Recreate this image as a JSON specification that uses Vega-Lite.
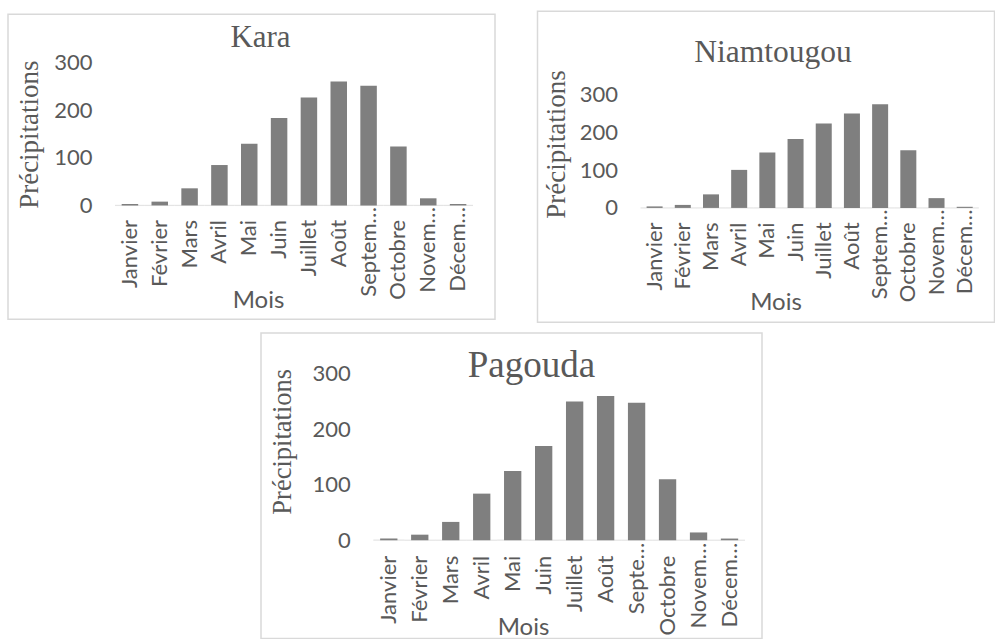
{
  "$schema": "https://vega.github.io/schema/vega-lite/v6.json",
  "padding": {"left": 7, "top": 10, "right": 0, "bottom": 0},
  "background": "white",
  "datasets": {
    "rain": [
      {"station": "Kara", "month": "Janvier", "value": 3},
      {"station": "Kara", "month": "Février", "value": 8},
      {"station": "Kara", "month": "Mars", "value": 36},
      {"station": "Kara", "month": "Avril", "value": 85},
      {"station": "Kara", "month": "Mai", "value": 130},
      {"station": "Kara", "month": "Juin", "value": 184},
      {"station": "Kara", "month": "Juillet", "value": 227},
      {"station": "Kara", "month": "Août", "value": 261},
      {"station": "Kara", "month": "Septembre", "value": 252},
      {"station": "Kara", "month": "Octobre", "value": 124},
      {"station": "Kara", "month": "Novembre", "value": 15},
      {"station": "Kara", "month": "Décembre", "value": 3},
      {"station": "Niamtougou", "month": "Janvier", "value": 4},
      {"station": "Niamtougou", "month": "Février", "value": 8},
      {"station": "Niamtougou", "month": "Mars", "value": 36},
      {"station": "Niamtougou", "month": "Avril", "value": 101},
      {"station": "Niamtougou", "month": "Mai", "value": 147},
      {"station": "Niamtougou", "month": "Juin", "value": 183},
      {"station": "Niamtougou", "month": "Juillet", "value": 224},
      {"station": "Niamtougou", "month": "Août", "value": 251},
      {"station": "Niamtougou", "month": "Septembre", "value": 275},
      {"station": "Niamtougou", "month": "Octobre", "value": 153},
      {"station": "Niamtougou", "month": "Novembre", "value": 26},
      {"station": "Niamtougou", "month": "Décembre", "value": 3},
      {"station": "Pagouda", "month": "Janvier", "value": 3},
      {"station": "Pagouda", "month": "Février", "value": 10},
      {"station": "Pagouda", "month": "Mars", "value": 33},
      {"station": "Pagouda", "month": "Avril", "value": 84},
      {"station": "Pagouda", "month": "Mai", "value": 125},
      {"station": "Pagouda", "month": "Juin", "value": 170},
      {"station": "Pagouda", "month": "Juillet", "value": 250},
      {"station": "Pagouda", "month": "Août", "value": 260},
      {"station": "Pagouda", "month": "Septembre", "value": 248},
      {"station": "Pagouda", "month": "Octobre", "value": 110},
      {"station": "Pagouda", "month": "Novembre", "value": 14},
      {"station": "Pagouda", "month": "Décembre", "value": 3}
    ]
  },
  "vconcat": [
    {
      "hconcat": [
        {
          "width": 487,
          "height": 305,
          "data": {"name": "rain"},
          "transform": [{"filter": "datum.station == 'Kara'"}],
          "title": {"text": "Kara", "font": "Liberation Serif", "fontSize": 31, "fontWeight": "normal", "color": "#595959", "anchor": "middle", "frame": "group", "offset": 0, "baseline": "middle", "dy": 55.2, "dx": 9},
          "encoding": {
            "x": {
              "field": "month", "type": "nominal", "sort": null,
              "scale": {"domain": ["Janvier", "Février", "Mars", "Avril", "Mai", "Juin", "Juillet", "Août", "Septembre", "Octobre", "Novembre", "Décembre"], "range": [107, 465], "paddingInner": 0.447, "paddingOuter": 0.2235},
              "axis": {"orient": "bottom", "offset": -113.7, "domain": false, "ticks": false, "tickSize": 0, "grid": false, "labelAngle": -90, "labelFont": "Lato", "labelFontSize": 22, "labelColor": "#595959", "labelOverlap": false,
                "labelPadding": {"condition": {"test": "datum.value == 'Septembre' || datum.value == 'Novembre' || datum.value == 'Décembre'", "value": 1}, "value": 14},
                "labelExpr": "datum.label == 'Septembre' ? 'Septem…' : datum.label == 'Novembre' ? 'Novem…' : datum.label == 'Décembre' ? 'Décem…' : datum.label",
                "title": "Mois", "titleFont": "Lato", "titleFontSize": 24, "titleFontWeight": "normal", "titleColor": "#595959", "titleX": 250, "titleY": 95, "titleBaseline": "middle"}
            }
          },
          "layer": [
            {
              "mark": {"type": "tick", "orient": "horizontal", "size": 29.83, "thickness": 1.2, "color": "#d9d9d9"},
              "encoding": {
                "y": {"datum": 0, "type": "quantitative", "title": "Précipitations",
                  "scale": {"domain": [-239.2, 402.5], "nice": false, "zero": false},
                  "axis": {"values": [0, 100, 200, 300], "offset": -107, "domain": false, "ticks": false, "tickSize": 0, "grid": false, "labelFont": "Lato", "labelFontSize": 22, "labelColor": "#595959", "labelPadding": 23, "title": "Précipitations", "titleFont": "Liberation Serif", "titleFontSize": 27, "titleFontWeight": "normal", "titleColor": "#595959", "titlePadding": 10, "titleY": 120}}
              }
            },
            {
              "mark": {"type": "bar", "color": "#7f7f7f"},
              "encoding": {
                "y": {"field": "value", "type": "quantitative", "title": "Précipitations",
                  "scale": {"domain": [-239.2, 402.5], "nice": false, "zero": false},
                  "axis": {"values": [0, 100, 200, 300], "offset": -107, "domain": false, "ticks": false, "tickSize": 0, "grid": false, "labelFont": "Lato", "labelFontSize": 22, "labelColor": "#595959", "labelPadding": 23, "title": "Précipitations", "titleFont": "Liberation Serif", "titleFontSize": 27, "titleFontWeight": "normal", "titleColor": "#595959", "titlePadding": 10, "titleY": 120}}
              }
            }
          ]
        },
        {
          "width": 457,
          "height": 311,
          "data": {"name": "rain"},
          "transform": [{"filter": "datum.station == 'Niamtougou'"}],
          "title": {"text": "Niamtougou", "font": "Liberation Serif", "fontSize": 31.5, "fontWeight": "normal", "color": "#595959", "anchor": "middle", "frame": "group", "offset": 0, "baseline": "middle", "dy": 73.2, "dx": 7},
          "encoding": {
            "x": {
              "field": "month", "type": "nominal", "sort": null,
              "scale": {"domain": ["Janvier", "Février", "Mars", "Avril", "Mai", "Juin", "Juillet", "Août", "Septembre", "Octobre", "Novembre", "Décembre"], "range": [103, 441.3], "paddingInner": 0.432, "paddingOuter": 0.216},
              "axis": {"orient": "bottom", "offset": -114.2, "domain": false, "ticks": false, "tickSize": 0, "grid": false, "labelAngle": -90, "labelFont": "Lato", "labelFontSize": 22, "labelColor": "#595959", "labelOverlap": false,
                "labelPadding": {"condition": {"test": "datum.value == 'Septembre' || datum.value == 'Novembre' || datum.value == 'Décembre'", "value": 1}, "value": 14},
                "labelExpr": "datum.label == 'Septembre' ? 'Septem…' : datum.label == 'Novembre' ? 'Novem…' : datum.label == 'Décembre' ? 'Décem…' : datum.label",
                "title": "Mois", "titleFont": "Lato", "titleFontSize": 24, "titleFontWeight": "normal", "titleColor": "#595959", "titleX": 238, "titleY": 94.4, "titleBaseline": "middle"}
            }
          },
          "layer": [
            {
              "mark": {"type": "tick", "orient": "horizontal", "size": 28.19, "thickness": 1.2, "color": "#d9d9d9"},
              "encoding": {
                "y": {"datum": 0, "type": "quantitative", "title": "Précipitations",
                  "scale": {"domain": [-303.2, 522.5], "nice": false, "zero": false},
                  "axis": {"values": [0, 100, 200, 300], "offset": -103, "domain": false, "ticks": false, "tickSize": 0, "grid": false, "labelFont": "Lato", "labelFontSize": 22, "labelColor": "#595959", "labelPadding": 23, "title": "Précipitations", "titleFont": "Liberation Serif", "titleFontSize": 27, "titleFontWeight": "normal", "titleColor": "#595959", "titlePadding": 9, "titleY": 132.8}}
              }
            },
            {
              "mark": {"type": "bar", "color": "#7f7f7f"},
              "encoding": {
                "y": {"field": "value", "type": "quantitative", "title": "Précipitations",
                  "scale": {"domain": [-303.2, 522.5], "nice": false, "zero": false},
                  "axis": {"values": [0, 100, 200, 300], "offset": -103, "domain": false, "ticks": false, "tickSize": 0, "grid": false, "labelFont": "Lato", "labelFontSize": 22, "labelColor": "#595959", "labelPadding": 23, "title": "Précipitations", "titleFont": "Liberation Serif", "titleFontSize": 27, "titleFontWeight": "normal", "titleColor": "#595959", "titlePadding": 9, "titleY": 132.8}}
              }
            }
          ]
        }
      ],
      "spacing": 40.5,
      "center": true
    },
    {
      "hconcat": [
        {
          "width": 252,
          "height": 10,
          "view": {"stroke": null},
          "data": {"values": []},
          "mark": "point",
          "encoding": {}
        },
        {
          "width": 501,
          "height": 305.5,
          "data": {"name": "rain"},
          "transform": [{"filter": "datum.station == 'Pagouda'"}],
          "title": {"text": "Pagouda", "font": "Liberation Serif", "fontSize": 37, "fontWeight": "normal", "color": "#595959", "anchor": "middle", "frame": "group", "offset": 0, "baseline": "middle", "dy": 70, "dx": 20},
          "encoding": {
            "x": {
              "field": "month", "type": "nominal", "sort": null,
              "scale": {"domain": ["Janvier", "Février", "Mars", "Avril", "Mai", "Juin", "Juillet", "Août", "Septembre", "Octobre", "Novembre", "Décembre"], "range": [112.3, 484], "paddingInner": 0.441, "paddingOuter": 0.2205},
              "axis": {"orient": "bottom", "offset": -98.3, "domain": false, "ticks": false, "tickSize": 0, "grid": false, "labelAngle": -90, "labelFont": "Lato", "labelFontSize": 22, "labelColor": "#595959", "labelOverlap": false,
                "labelPadding": {"condition": {"test": "datum.value == 'Septembre' || datum.value == 'Novembre' || datum.value == 'Décembre'", "value": 2}, "value": 15},
                "labelExpr": "datum.label == 'Septembre' ? 'Septe…' : datum.label == 'Novembre' ? 'Novem…' : datum.label == 'Décembre' ? 'Décem…' : datum.label",
                "title": "Mois", "titleFont": "Lato", "titleFontSize": 24, "titleFontWeight": "normal", "titleColor": "#595959", "titleX": 262, "titleY": 87.6, "titleBaseline": "middle"}
            }
          },
          "layer": [
            {
              "mark": {"type": "tick", "orient": "horizontal", "size": 30.97, "thickness": 1.2, "color": "#d9d9d9"},
              "encoding": {
                "y": {"datum": 0, "type": "quantitative", "title": "Précipitations",
                  "scale": {"domain": [-177.2, 373.6], "nice": false, "zero": false},
                  "axis": {"values": [0, 100, 200, 300], "offset": -112.3, "domain": false, "ticks": false, "tickSize": 0, "grid": false, "labelFont": "Lato", "labelFontSize": 22, "labelColor": "#595959", "labelPadding": 23, "title": "Précipitations", "titleFont": "Liberation Serif", "titleFontSize": 26.5, "titleFontWeight": "normal", "titleColor": "#595959", "titlePadding": 16, "titleY": 108.3}}
              }
            },
            {
              "mark": {"type": "bar", "color": "#7f7f7f"},
              "encoding": {
                "y": {"field": "value", "type": "quantitative", "title": "Précipitations",
                  "scale": {"domain": [-177.2, 373.6], "nice": false, "zero": false},
                  "axis": {"values": [0, 100, 200, 300], "offset": -112.3, "domain": false, "ticks": false, "tickSize": 0, "grid": false, "labelFont": "Lato", "labelFontSize": 22, "labelColor": "#595959", "labelPadding": 23, "title": "Précipitations", "titleFont": "Liberation Serif", "titleFontSize": 26.5, "titleFontWeight": "normal", "titleColor": "#595959", "titlePadding": 16, "titleY": 108.3}}
              }
            }
          ]
        }
      ],
      "spacing": 0
    }
  ],
  "spacing": 9,
  "config": {
    "view": {"stroke": "#d9d9d9", "strokeWidth": 1.5},
    "font": "Lato"
  }
}
